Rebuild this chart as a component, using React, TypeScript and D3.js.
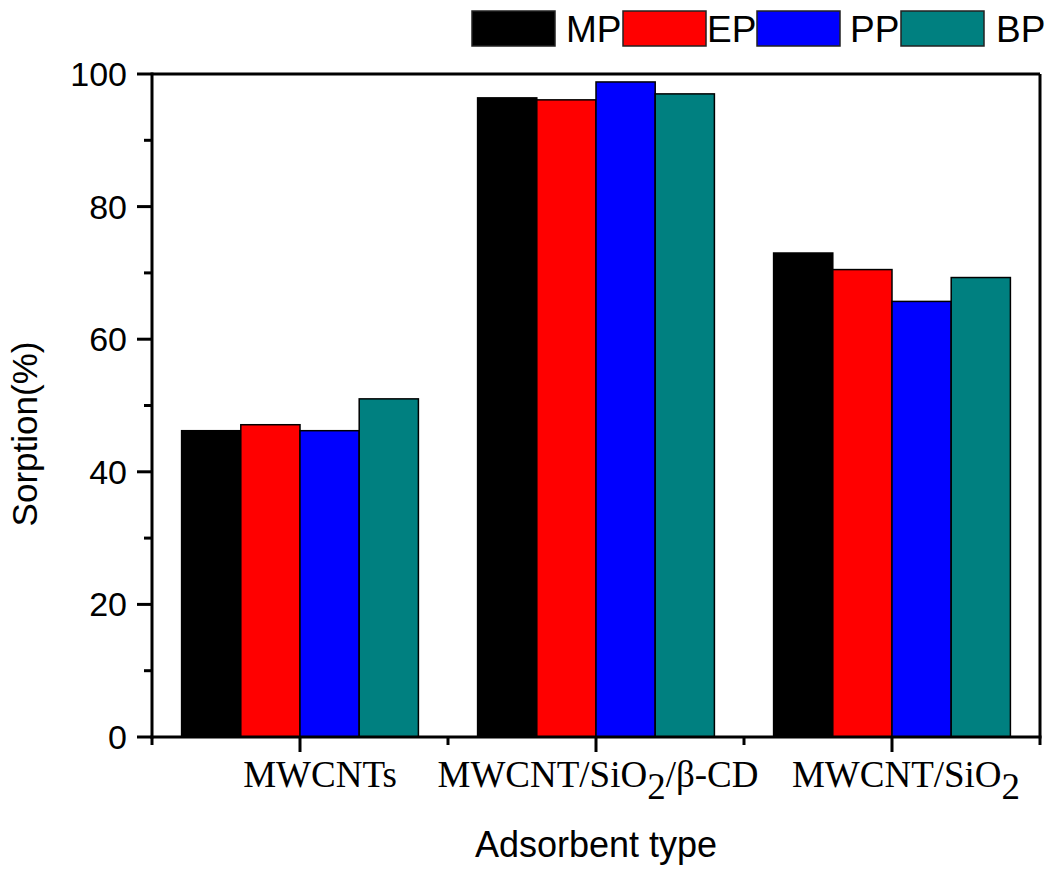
import React from "react";
import * as d3 from "d3";

const categories = ["MWCNTs", "MWCNT/SiO2/β-CD", "MWCNT/SiO2"];
const seriesNames = ["MP", "EP", "PP", "BP"];
const seriesColors = ["#000000", "#ff0000", "#0000ff", "#008080"];
const MP = [46.2, 96.4, 73.0];
const EP = [47.1, 96.1, 70.5];
const PP = [46.2, 98.8, 65.7];
const BP = [51.0, 97.0, 69.3];
const seriesValues = [MP, EP, PP, BP];
const yMajorTicks = [0, 20, 40, 60, 80, 100];
const yMinorTicks = [10, 30, 50, 70, 90];

const W = 1047;
const H = 869;
const left = 152;
const right = 1040;
const top = 74;
const bottom = 737;

const legendRectX = [472, 623, 757, 901];
const legendTextX = [566, 707, 850, 996];
const labelDx = [20, 2, 14];

export default function App() {
  const x = d3.scaleLinear().domain([0.5, 3.5]).range([left, right]);
  const y = d3.scaleLinear().domain([0, 100]).range([bottom, top]);
  const barW = 0.2;
  const xMajor = [1, 2, 3];
  const xMinor = [0.5, 1.5, 2.5, 3.5];

  const renderLabel = (c: string, i: number) => {
    const parts = c.split("2");
    const cx = x(i + 1) + labelDx[i];
    return (
      <text
        key={c}
        x={cx}
        y={787}
        textAnchor="middle"
        fontFamily="'Liberation Serif', 'Times New Roman', serif"
        fontSize={37}
        fill="#000"
      >
        {parts.map((p, k) => (
          <React.Fragment key={k}>
            <tspan dy={k === 0 ? 0 : -12}>{p}</tspan>
            {k < parts.length - 1 && <tspan dy={12}>2</tspan>}
          </React.Fragment>
        ))}
      </text>
    );
  };

  return (
    <svg
      width={W}
      height={H}
      style={{ position: "absolute", left: 0, top: 0, background: "#fff" }}
    >
      <rect x={0} y={0} width={W} height={H} fill="#fff" />
      {categories.map((c, ci) =>
        seriesValues.map((vals, si) => {
          const x0 = x(ci + 1 - 0.4 + barW * si);
          const x1 = x(ci + 1 - 0.4 + barW * (si + 1));
          return (
            <rect
              key={c + si}
              x={x0}
              y={y(vals[ci])}
              width={x1 - x0}
              height={y(0) - y(vals[ci])}
              fill={seriesColors[si]}
              stroke="#000"
              strokeWidth={1.5}
            />
          );
        })
      )}
      <line x1={left} y1={top} x2={right} y2={top} stroke="#000" strokeWidth={3} />
      <line x1={right} y1={top} x2={right} y2={bottom} stroke="#000" strokeWidth={3} />
      <line x1={left} y1={top - 1.5} x2={left} y2={bottom + 1.5} stroke="#000" strokeWidth={3} />
      <line x1={left - 1.5} y1={bottom} x2={right + 1.5} y2={bottom} stroke="#000" strokeWidth={3} />
      {yMajorTicks.map((t) => (
        <g key={"ym" + t}>
          <line x1={left - 15} x2={left} y1={y(t)} y2={y(t)} stroke="#000" strokeWidth={3} />
          <text
            x={left - 25}
            y={y(t)}
            dy="0.35em"
            textAnchor="end"
            fontFamily="'Liberation Sans', Arial, sans-serif"
            fontSize={34}
            fill="#000"
          >
            {t}
          </text>
        </g>
      ))}
      {yMinorTicks.map((t) => (
        <line key={"yn" + t} x1={left - 8} x2={left} y1={y(t)} y2={y(t)} stroke="#000" strokeWidth={3} />
      ))}
      {xMajor.map((t) => (
        <line key={"xm" + t} x1={x(t)} x2={x(t)} y1={bottom} y2={bottom + 15} stroke="#000" strokeWidth={3} />
      ))}
      {xMinor.map((t) => (
        <line key={"xn" + t} x1={x(t)} x2={x(t)} y1={bottom} y2={bottom + 8} stroke="#000" strokeWidth={3} />
      ))}
      {categories.map(renderLabel)}
      <text
        x={596}
        y={857}
        textAnchor="middle"
        fontFamily="'Liberation Sans', Arial, sans-serif"
        fontSize={36}
        fill="#000"
      >
        Adsorbent type
      </text>
      <text
        transform={`translate(37, 434) rotate(-90)`}
        textAnchor="middle"
        fontFamily="'Liberation Sans', Arial, sans-serif"
        fontSize={35}
        fill="#000"
      >
        Sorption(%)
      </text>
      {seriesNames.map((n, i) => (
        <g key={n}>
          <rect
            x={legendRectX[i]}
            y={11}
            width={83}
            height={35}
            fill={seriesColors[i]}
            stroke="#222"
            strokeWidth={1.5}
          />
          <text
            x={legendTextX[i]}
            y={42}
            fontFamily="'Liberation Sans', Arial, sans-serif"
            fontSize={37}
            fill="#000"
          >
            {n}
          </text>
        </g>
      ))}
    </svg>
  );
}
